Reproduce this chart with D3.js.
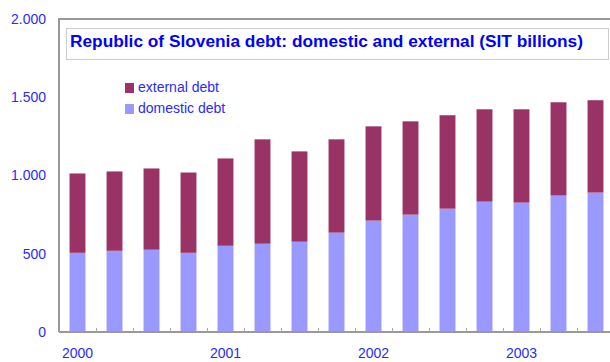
<!DOCTYPE html>
<html>
<head>
<meta charset="utf-8">
<script src="https://cdn.jsdelivr.net/npm/d3@7"></script>
<style>
  html, body { margin: 0; padding: 0; background: #fff; }
  svg { display: block; font-family: "Liberation Sans", Arial, sans-serif; }
</style>
</head>
<body>
<svg id="chart" width="610" height="362"></svg>
<script>
// Quarterly debt of the Republic of Slovenia, SIT billions
const quarters = ["2000Q1","2000Q2","2000Q3","2000Q4","2001Q1","2001Q2","2001Q3","2001Q4",
                  "2002Q1","2002Q2","2002Q3","2002Q4","2003Q1","2003Q2","2003Q3"];
const domesticDebt = [506, 519, 526, 506, 551, 564, 577, 635, 712, 750, 788, 833, 827, 872, 891];
const externalDebt = [507, 507, 519, 513, 558, 667, 577, 596, 602, 596, 597, 590, 596, 596, 590];
const yearLabels = {"2000Q1": "2000", "2001Q1": "2001", "2002Q1": "2002", "2003Q1": "2003"};
const yTicks = [0, 500, 1000, 1500, 2000];
const seriesNames = ["domestic debt", "external debt"];

const colors = { "domestic debt": "#9999ff", "external debt": "#993366" };
const textBlue = "#2a2aff";
const axisGray = "#999999";

const svg = d3.select("#chart");
const plotLeft = 59, plotRight = 614, plotTop = 19, plotBottom = 332;

const x = d3.scaleBand().domain(quarters).range([plotLeft, plotRight])
  .paddingInner(0.57).paddingOuter(0.285);
const y = d3.scaleLinear().domain([0, 2000]).range([plotBottom, plotTop]);

const locale = d3.formatLocale({ decimal: ",", thousands: ".", grouping: [3], currency: ["", ""] });
const fmt = locale.format(",");

// Stacked series
const rows = quarters.map((q, i) => ({
  quarter: q,
  "domestic debt": domesticDebt[i],
  "external debt": externalDebt[i]
}));
const stack = d3.stack().keys(seriesNames)(rows);

svg.append("g").selectAll("g").data(stack).join("g")
  .attr("fill", s => colors[s.key])
  .selectAll("rect").data(s => s).join("rect")
  .attr("x", d => x(d.data.quarter))
  .attr("width", x.bandwidth())
  .attr("y", d => y(d[1]))
  .attr("height", d => y(d[0]) - y(d[1]));

// Plot frame: left and top edges
svg.append("path")
  .attr("d", `M${plotLeft},${plotBottom}V${plotTop}H610`)
  .attr("fill", "none").attr("stroke", axisGray).attr("stroke-width", 2);

// Y axis labels
const yAxis = d3.axisLeft(y).tickValues(yTicks).tickFormat(fmt).tickSize(0).tickPadding(13);
const gy = svg.append("g").attr("transform", `translate(${plotLeft},0)`).call(yAxis);
gy.select(".domain").remove();
gy.selectAll("text").attr("fill", textBlue).attr("font-size", 14)
  .attr("font-family", "Liberation Sans, Arial, sans-serif");

// X axis: baseline, tick marks between quarters, year labels
svg.append("line")
  .attr("x1", plotLeft).attr("x2", 610).attr("y1", plotBottom).attr("y2", plotBottom)
  .attr("stroke", axisGray).attr("stroke-width", 2);

const step = x.step();
svg.append("g").selectAll("line").data(quarters.slice(1)).join("line")
  .attr("x1", d => Math.round(x(d) - step * x.paddingInner() / 2) + 0.5)
  .attr("x2", d => Math.round(x(d) - step * x.paddingInner() / 2) + 0.5)
  .attr("y1", plotBottom).attr("y2", plotBottom - 4)
  .attr("stroke", "#aaaaaa").attr("stroke-width", 1);

const xAxis = d3.axisBottom(x).tickSize(0).tickPadding(16)
  .tickFormat(q => yearLabels[q] || "");
const gx = svg.append("g").attr("transform", `translate(0,${plotBottom})`).call(xAxis);
gx.select(".domain").remove();
gx.selectAll("text").attr("fill", textBlue).attr("font-size", 14)
  .attr("font-family", "Liberation Sans, Arial, sans-serif");

// Title box
svg.append("rect")
  .attr("x", 66.5).attr("y", 28.5).attr("width", 542).attr("height", 31)
  .attr("fill", "#fff").attr("stroke", "#cccccc").attr("stroke-width", 1);
svg.append("text")
  .attr("x", 70).attr("y", 47)
  .attr("fill", "#0000ff").attr("font-size", 16.5).attr("font-weight", "bold")
  .attr("textLength", 513).attr("lengthAdjust", "spacingAndGlyphs")
  .text("Republic of Slovenia debt: domestic and external (SIT billions)");

// Legend
const legendItems = ["external debt", "domestic debt"];
const lg = svg.append("g").selectAll("g").data(legendItems).join("g")
  .attr("transform", (d, i) => `translate(125,${83 + i * 21})`);
lg.append("rect").attr("width", 9).attr("height", 10).attr("fill", d => colors[d]);
lg.append("text").attr("x", 13).attr("y", 9)
  .attr("fill", textBlue).attr("font-size", 14).text(d => d);
</script>
</body>
</html>
